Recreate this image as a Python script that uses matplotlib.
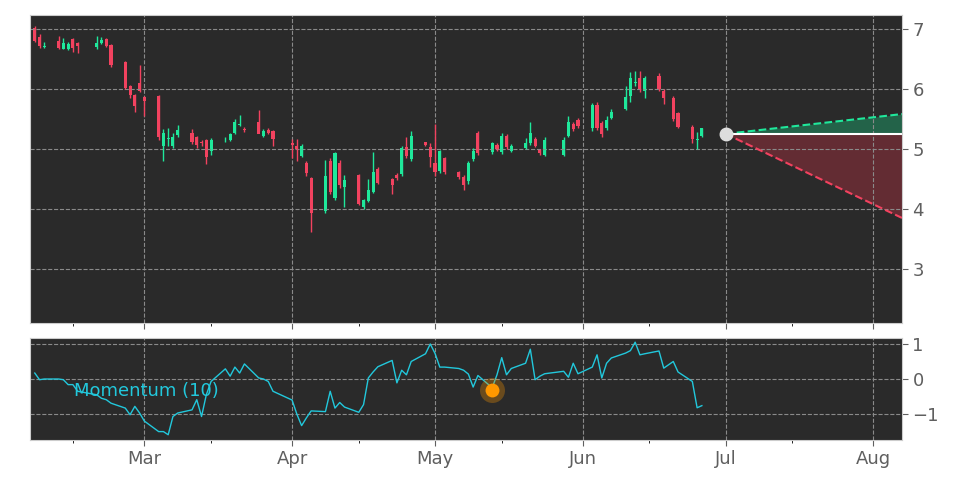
import matplotlib
matplotlib.use("Agg")
import matplotlib.pyplot as plt
import matplotlib.dates as mdates
import pandas as pd
import numpy as np

# trading days shown (2024)
holidays = ["2024-02-19", "2024-03-29", "2024-05-27", "2024-06-19"]
dates = pd.bdate_range("2024-02-07", "2024-06-27")
dates = dates[~dates.isin(pd.to_datetime(holidays))]

opens = [7.02, 6.86, 6.70, 6.80, 6.67, 6.67, 6.83, 6.76, 6.69, 6.77, 6.83, 6.73, 6.44, 6.05, 5.90, 6.10, 5.86,
         5.88, 5.05, 5.17, 5.05, 5.23, 5.26, 5.19, 5.11, 5.15, 4.97, 5.14, 5.15, 5.26, 5.40, 5.33, 5.45, 5.21, 5.32, 5.29,
         5.10, 5.05, 4.88, 4.76, 4.51, 3.96, 4.80, 4.18, 4.76, 4.36, 4.57, 4.03, 4.14, 4.29, 4.67, 4.50, 4.57, 4.59, 5.03, 4.83, 5.11,
         5.03, 4.77, 4.64, 4.84, 4.62, 4.54, 4.47, 4.83, 5.27, 4.94, 5.07, 4.94, 5.22, 4.97, 5.01, 5.09, 5.17, 4.98, 4.90, 4.90, 5.22, 5.42,
         5.48, 5.34, 5.73, 5.43, 5.34, 5.51, 5.66, 5.88, 6.09, 6.18, 5.97, 6.22, 5.97, 5.85, 5.59, 5.36, 5.15, 5.21]
closes = [6.80, 6.72, 6.72, 6.68, 6.76, 6.74, 6.68, 6.71, 6.77, 6.81, 6.71, 6.39, 6.02, 5.89, 5.71, 5.96, 5.79,
          5.19, 5.27, 5.18, 5.19, 5.32, 5.11, 5.07, 5.10, 4.86, 5.15, 5.15, 5.24, 5.44, 5.42, 5.31, 5.25, 5.29, 5.26, 5.16,
          5.07, 4.99, 5.05, 4.60, 3.94, 4.55, 4.29, 4.93, 4.40, 4.49, 4.08, 4.15, 4.31, 4.62, 4.44, 4.40, 4.52, 5.02, 4.88, 5.22, 5.07,
          4.86, 4.61, 4.96, 4.62, 4.54, 4.40, 4.77, 4.97, 4.93, 5.09, 5.00, 5.22, 5.03, 5.05, 5.09, 5.27, 5.05, 4.93, 5.15, 5.15, 5.45, 5.33,
          5.38, 5.73, 5.34, 5.25, 5.48, 5.62, 5.87, 6.18, 6.11, 5.99, 6.18, 5.99, 5.84, 5.49, 5.37, 5.16, 5.16, 5.34]
highs = [7.05, 6.92, 6.78, 6.88, 6.85, 6.78, 6.85, 6.78, 6.88, 6.86, 6.85, 6.75, 6.46, 6.07, 5.92, 6.40, 5.88,
         5.90, 5.33, 5.35, 5.27, 5.40, 5.33, 5.21, 5.15, 5.17, 5.18, 5.20, 5.27, 5.50, 5.57, 5.36, 5.65, 5.33, 5.35, 5.31,
         5.17, 5.17, 5.08, 4.80, 4.53, 4.82, 4.85, 4.95, 4.82, 4.56, 4.59, 4.17, 4.50, 4.95, 4.70, 4.52, 4.60, 5.05, 5.20, 5.30, 5.12,
         5.10, 5.42, 4.98, 4.87, 4.64, 4.56, 4.80, 5.02, 5.30, 5.12, 5.10, 5.26, 5.25, 5.08, 5.18, 5.45, 5.20, 5.00, 5.20, 5.20, 5.55, 5.45,
         5.52, 5.76, 5.78, 5.47, 5.55, 5.66, 6.05, 6.28, 6.30, 6.30, 6.22, 6.26, 6.00, 5.88, 5.62, 5.40, 5.28, 5.35]
lows = [6.78, 6.68, 6.68, 6.66, 6.66, 6.65, 6.62, 6.60, 6.67, 6.75, 6.69, 6.37, 6.00, 5.85, 5.62, 5.94, 5.55,
        5.15, 4.80, 5.05, 5.02, 5.20, 5.08, 5.01, 5.05, 4.75, 4.90, 5.12, 5.13, 5.24, 5.38, 5.28, 5.30, 5.20, 5.24, 5.05,
        4.85, 4.80, 4.86, 4.55, 3.61, 3.93, 4.25, 4.15, 4.35, 4.03, 4.06, 4.00, 4.12, 4.27, 4.42, 4.25, 4.48, 4.55, 4.85, 4.80, 5.05,
        4.70, 4.55, 4.60, 4.58, 4.50, 4.32, 4.42, 4.80, 4.90, 4.92, 4.97, 4.92, 5.00, 4.95, 4.99, 5.07, 5.03, 4.90, 4.88, 4.88, 5.20, 5.30,
        5.35, 5.30, 5.32, 5.20, 5.32, 5.50, 5.64, 5.78, 6.05, 5.95, 5.85, 5.96, 5.75, 5.47, 5.34, 5.10, 4.99, 5.20]

momentum = [0.17, -0.02, 0.0, 0.0, -0.02, -0.16, -0.16, -0.35, -0.45, -0.55, -0.59, -0.69, -0.83, -1.02, -0.78, -0.97, -1.2,
            -1.5, -1.5, -1.59, -1.07, -0.97, -0.88, -0.59, -1.07, -0.45, -0.07, 0.29, 0.08, 0.34, 0.17, 0.43, 0.03, 0.0, -0.07, -0.35,
            -0.6, -1.0, -1.33, -1.11, -0.91, -0.93, -0.35, -0.83, -0.67, -0.8, -0.95, -0.73, 0.03, 0.2, 0.35, 0.53, -0.11, 0.25, 0.12, 0.5, 0.72,
            1.0, 0.73, 0.34, 0.34, 0.3, 0.25, 0.14, -0.23, 0.1, -0.25, 0.12, 0.61, 0.12, 0.3, 0.45, 0.85, -0.02, 0.08, 0.15, 0.22, 0.05, 0.45, 0.15,
            0.34, 0.69, 0.03, 0.45, 0.6, 0.74, 0.81, 1.05, 0.69, 0.72, 0.8, 0.31, 0.5, 0.2, -0.07, -0.82, -0.76, -0.76]

marker_date, marker_value = "2024-05-13", -0.3
proj_start, proj_end = "2024-07-01", "2024-08-07"
proj_price, proj_high, proj_low = 5.25, 5.58, 3.85

GREEN = "#1fe89b"
RED = "#f2425f"
BG = "#2a2a2a"
TXT = "#5f5f5f"

n = min(len(dates), len(opens), len(closes), len(highs), len(lows), len(momentum))
dates = dates[:n]

fig = plt.figure(figsize=(9.72, 4.86), dpi=100)
ax = fig.add_axes([30 / 972, 163 / 486, 872 / 972, 308 / 486])
ax2 = fig.add_axes([30 / 972, 46 / 486, 872 / 972, 102 / 486], sharex=ax)

x = mdates.date2num(dates)
for xi, o, c, h, l in zip(x, opens, closes, highs, lows):
    col = GREEN if c >= o else RED
    ax.vlines(xi, l, h, color=col, lw=1)
    ax.bar(xi, max(abs(c - o), 0.015), bottom=min(o, c), width=0.65, color=col, lw=0)

# projection cone
px0, px1 = mdates.date2num(pd.to_datetime([proj_start, proj_end]))
ax.fill_between([px0, px1], [proj_price, proj_price], [proj_price, proj_high], color="#1f8a5e", alpha=0.6, lw=0)
ax.fill_between([px0, px1], [proj_price, proj_price], [proj_price, proj_low], color="#8a2f3a", alpha=0.6, lw=0)
ax.plot([px0, px1], [proj_price, proj_high], ls="--", color=GREEN, lw=1.5)
ax.plot([px0, px1], [proj_price, proj_low], ls="--", color=RED, lw=1.5)
ax.plot([px0, px1], [proj_price, proj_price], color="white", lw=1.5)
ax.plot(px0, proj_price, "o", ms=9, color="#dddddd", zorder=5)

ax2.plot(x, momentum[:n], color="#22c8dc", lw=1)
mx = mdates.date2num(pd.Timestamp(marker_date))
ax2.plot(mx, marker_value, "o", ms=18, color="#ff9800", alpha=0.3, mec="none")
ax2.plot(mx, marker_value, "o", ms=10, color="#ff9800", mec="none")
ax2.text(0.05, 0.48, "Momentum (10)", transform=ax2.transAxes, color="#22c8dc", fontsize=13, va="center")

ax.set_ylim(2.1, 7.23)
ax.set_yticks([3, 4, 5, 6, 7])
ax2.set_ylim(-1.74, 1.17)
ax2.set_yticks([-1, 0, 1])
ax.set_xlim(mdates.date2num(pd.Timestamp("2024-02-06")), px1)
ax2.xaxis.set_major_locator(mdates.MonthLocator())
ax2.xaxis.set_major_formatter(mdates.DateFormatter("%b"))
ax2.xaxis.set_minor_locator(mdates.DayLocator(bymonthday=15))

for a in (ax, ax2):
    a.set_facecolor(BG)
    a.yaxis.tick_right()
    a.grid(True, ls="--", color="#8a8a8a", lw=0.8)
    a.tick_params(colors=TXT, labelsize=13, length=4)
    for s in a.spines.values():
        s.set_color("#cccccc")
plt.setp(ax.get_xticklabels(), visible=False)

fig.savefig("out.png", dpi=100, facecolor="white")
